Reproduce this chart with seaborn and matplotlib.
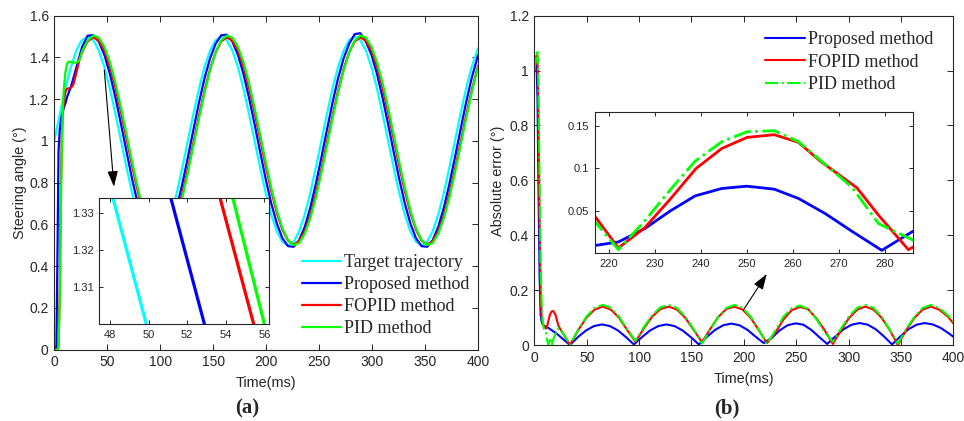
import matplotlib
matplotlib.use("Agg")
import matplotlib.pyplot as plt
from matplotlib.ticker import FuncFormatter, MultipleLocator, FixedLocator
from matplotlib.font_manager import FontProperties
import seaborn as sns

# ---------------- data: panel (a) steering angle ----------------
time_a = [0, 1, 2, 3, 4, 5.25, 6, 7, 8, 9, 10.5, 12, 13.5, 15.75, 18, 21, 23.5, 26.25,
          31.5, 36.75, 42, 47.25, 52.5, 57.75, 63, 68.25, 73.5, 78.75, 84, 89.25,
          94.5, 99.75, 105, 110.25, 115.5, 120.75, 126, 131.25, 136.5, 141.75, 147, 152.25,
          157.5, 162.75, 168, 173.25, 178.5, 183.75, 189, 194.25, 199.5, 204.75, 210, 215.25,
          220.5, 225.75, 231, 236.25, 241.5, 246.75, 252, 257.25, 262.5, 267.75, 273, 278.25,
          283.5, 288.75, 294, 299.25, 304.5, 309.75, 315, 320.25, 325.5, 330.75, 336, 341.25,
          346.5, 351.75, 357, 362.25, 367.5, 372.75, 378, 383.25, 388.5, 393.75, 399,
          400]
target = [1.000, 1.025, 1.050, 1.075, 1.099, 1.129, 1.147, 1.171, 1.194, 1.217, 1.250, 1.282, 1.312, 1.354, 1.391, 1.433, 1.461, 1.483,
          1.500, 1.483, 1.433, 1.354, 1.250, 1.129, 1.000, 0.871, 0.750, 0.646, 0.567, 0.517,
          0.500, 0.517, 0.567, 0.646, 0.750, 0.871, 1.000, 1.129, 1.250, 1.354, 1.433, 1.483,
          1.500, 1.483, 1.433, 1.354, 1.250, 1.129, 1.000, 0.871, 0.750, 0.646, 0.567, 0.517,
          0.500, 0.517, 0.567, 0.646, 0.750, 0.871, 1.000, 1.129, 1.250, 1.354, 1.433, 1.483,
          1.500, 1.483, 1.433, 1.354, 1.250, 1.129, 1.000, 0.871, 0.750, 0.646, 0.567, 0.517,
          0.500, 0.517, 0.567, 0.646, 0.750, 0.871, 1.000, 1.129, 1.250, 1.354, 1.433,
          1.445]
proposed = [0.000, 0.000, 0.020, 0.450, 0.950, 1.060, 1.090, 1.120, 1.140, 1.160, 1.180, 1.210, 1.230, 1.260, 1.300, 1.355, 1.400, 1.450,
            1.504, 1.507, 1.476, 1.413, 1.321, 1.207, 1.080, 0.947, 0.817, 0.700, 0.604, 0.534,
            0.496, 0.493, 0.524, 0.587, 0.679, 0.793, 0.920, 1.053, 1.183, 1.300, 1.396, 1.466,
            1.506, 1.509, 1.476, 1.413, 1.321, 1.207, 1.080, 0.947, 0.817, 0.700, 0.604, 0.534,
            0.496, 0.493, 0.524, 0.587, 0.679, 0.793, 0.920, 1.053, 1.183, 1.300, 1.396, 1.466,
            1.512, 1.516, 1.476, 1.413, 1.321, 1.207, 1.080, 0.947, 0.817, 0.700, 0.604, 0.534,
            0.496, 0.493, 0.524, 0.587, 0.679, 0.793, 0.920, 1.053, 1.183, 1.300, 1.396,
            1.413]
fopid = [0.000, 0.000, 0.000, 0.000, 0.020, 0.300, 0.700, 1.000, 1.130, 1.190, 1.235, 1.250, 1.252, 1.255, 1.270, 1.330, 1.385, 1.425,
         1.477, 1.496, 1.481, 1.434, 1.357, 1.255, 1.137, 1.009, 0.880, 0.760, 0.655, 0.575,
         0.523, 0.504, 0.519, 0.566, 0.643, 0.745, 0.863, 0.991, 1.120, 1.240, 1.345, 1.425,
         1.477, 1.496, 1.481, 1.434, 1.357, 1.255, 1.137, 1.009, 0.880, 0.760, 0.655, 0.575,
         0.523, 0.504, 0.519, 0.566, 0.643, 0.745, 0.863, 0.991, 1.120, 1.240, 1.345, 1.425,
         1.477, 1.496, 1.481, 1.434, 1.357, 1.255, 1.137, 1.009, 0.880, 0.760, 0.655, 0.575,
         0.523, 0.504, 0.519, 0.566, 0.643, 0.745, 0.863, 0.991, 1.120, 1.240, 1.345,
         1.362]
pid = [0.000, 0.000, 0.000, 0.000, 0.010, 0.250, 0.600, 0.950, 1.150, 1.250, 1.330, 1.370, 1.380, 1.378, 1.375, 1.375, 1.385, 1.430,
       1.481, 1.505, 1.495, 1.451, 1.377, 1.277, 1.158, 1.029, 0.898, 0.775, 0.666, 0.581,
       0.525, 0.501, 0.511, 0.555, 0.629, 0.729, 0.848, 0.977, 1.108, 1.231, 1.340, 1.425,
       1.481, 1.505, 1.495, 1.451, 1.377, 1.277, 1.158, 1.029, 0.898, 0.775, 0.666, 0.581,
       0.525, 0.501, 0.511, 0.555, 0.629, 0.729, 0.848, 0.977, 1.108, 1.231, 1.340, 1.425,
       1.481, 1.505, 1.495, 1.451, 1.377, 1.277, 1.158, 1.029, 0.898, 0.775, 0.666, 0.581,
       0.525, 0.501, 0.511, 0.555, 0.629, 0.729, 0.848, 0.977, 1.108, 1.231, 1.340,
       1.358]

# zoomed detail of panel (a) (inset)
zoom_a_value = [1.340, 1.295]
zoom_a_target_t = [47.84, 50.15]
zoom_a_proposed_t = [50.84, 53.16]
zoom_a_fopid_t = [53.39, 55.71]
zoom_a_pid_t = [54.07, 56.25]

# ---------------- data: panel (b) absolute error ----------------
time_b_fp = [0, 1, 2, 3, 4, 5, 6, 7, 8, 9, 10, 11, 12, 13.5, 15, 16.5, 18, 20, 23, 26, 30, 34,
             41.8, 49.6, 57.4, 65.3, 73.1, 80.9, 88.7, 96.5,
             104.4, 112.4, 120.3, 128.3, 136.2, 144.1, 152.1, 160,
             167.8, 175.5, 183.3, 191.0, 198.8, 206.5, 214.3, 222,
             229.9, 237.8, 245.6, 253.5, 261.4, 269.3, 277.1, 285,
             292.8, 300.5, 308.3, 316.0, 323.8, 331.5, 339.3, 347,
             354.9, 362.8, 370.6, 378.5, 386.4, 394.3, 400]
err_fopid = [1.0, 1.03, 1.055, 1.05, 0.8, 0.45, 0.2, 0.1, 0.075, 0.068, 0.063, 0.06, 0.065, 0.09, 0.112, 0.122, 0.124, 0.112, 0.07, 0.05, 0.025, 0.0,
             0.054, 0.099, 0.129, 0.140, 0.129, 0.099, 0.054, 0.012,
             0.060, 0.103, 0.131, 0.140, 0.129, 0.099, 0.055, 0.010,
             0.058, 0.102, 0.131, 0.140, 0.129, 0.099, 0.054, 0.007,
             0.044, 0.093, 0.127, 0.139, 0.130, 0.097, 0.054, 0.004,
             0.054, 0.099, 0.129, 0.140, 0.129, 0.099, 0.054, 0.000,
             0.054, 0.099, 0.129, 0.140, 0.129, 0.105, 0.079]
err_pid = [1.0, 1.03, 1.06, 1.075, 0.95, 0.6, 0.3, 0.15, 0.09, 0.06, 0.05, 0.045, 0.02, 0.0, 0.026, 0.0, 0.02, 0.04, 0.062, 0.05, 0.027, 0.0,
           0.056, 0.103, 0.135, 0.146, 0.135, 0.103, 0.056, 0.015,
           0.065, 0.108, 0.137, 0.146, 0.135, 0.103, 0.058, 0.005,
           0.056, 0.103, 0.135, 0.146, 0.135, 0.103, 0.056, 0.004,
           0.052, 0.103, 0.134, 0.144, 0.131, 0.094, 0.046, 0.012,
           0.060, 0.106, 0.136, 0.146, 0.135, 0.103, 0.056, 0.005,
           0.058, 0.103, 0.135, 0.146, 0.135, 0.110, 0.085]
time_b_p = [0, 1, 2, 3, 4, 5, 6, 7, 8, 9, 10, 11, 12, 13.5, 15, 16.5, 18, 20, 23, 26, 30, 34,
            41.6, 49.3, 56.9, 64.5, 72.1, 79.8, 87.4, 95,
            102.8, 110.5, 118.3, 126.0, 133.8, 141.5, 149.3, 157,
            164.8, 172.5, 180.3, 188.0, 195.8, 203.5, 211.3, 219,
            226.6, 234.1, 241.7, 249.3, 256.8, 264.4, 271.9, 279.5,
            287.3, 295.0, 302.8, 310.5, 318.3, 326.0, 333.8, 341.5,
            349.3, 357.0, 364.8, 372.5, 380.3, 388.0, 395.8, 400]
err_proposed = [1.0, 1.04, 1.03, 0.9, 0.55, 0.25, 0.11, 0.085, 0.075, 0.071, 0.069, 0.067, 0.065, 0.062, 0.058, 0.054, 0.05, 0.045, 0.036, 0.026, 0.013, 0.0,
                0.029, 0.053, 0.069, 0.075, 0.069, 0.053, 0.029, 0.002,
                0.029, 0.053, 0.069, 0.075, 0.069, 0.053, 0.029, 0.002,
                0.030, 0.055, 0.072, 0.078, 0.072, 0.055, 0.030, 0.007,
                0.026, 0.053, 0.072, 0.079, 0.074, 0.055, 0.029, 0.004,
                0.031, 0.057, 0.074, 0.080, 0.074, 0.057, 0.031, 0.002,
                0.031, 0.057, 0.074, 0.080, 0.075, 0.062, 0.042, 0.030]

# zoomed detail of panel (b) (inset)
zoom_b_fopid_t = [216, 222.0, 227.7, 233.3, 238.9, 244.5, 250.0, 255.9, 261.2, 265.9, 273.9, 278.6, 285.1, 287]
zoom_b_fopid = [0.050, 0.0063, 0.030, 0.064, 0.100, 0.1236, 0.1366, 0.1398, 0.1307, 0.1087, 0.0772, 0.0449, 0.0043, 0.010]
zoom_b_prop_t = [216, 222.0, 227.7, 233.3, 238.7, 244.5, 249.9, 255.9, 261.2, 267.0, 272.8, 279.3, 287]
zoom_b_prop = [0.0085, 0.0134, 0.029, 0.050, 0.0677, 0.0764, 0.0791, 0.0756, 0.0646, 0.0468, 0.026, 0.0035, 0.029]
zoom_b_pid_t = [216, 222.0, 227.7, 233.3, 238.7, 244.5, 250.0, 255.9, 261.2, 266.3, 272.8, 278.6, 286.2, 287]
zoom_b_pid = [0.043, 0.0043, 0.038, 0.075, 0.1087, 0.1315, 0.1433, 0.1445, 0.1315, 0.108, 0.078, 0.035, 0.0153, 0.015]

labels_a = ["Target trajectory", "Proposed method", "FOPID method", "PID method"]
labels_b = ["Proposed method", "FOPID method", "PID method"]

assert len(time_a) == len(target) == len(proposed) == len(fopid) == len(pid)
assert len(time_b_fp) == len(err_fopid) == len(err_pid)
assert len(time_b_p) == len(err_proposed)

# ---------------- style ----------------
sns.set_theme(style="white")
plt.rcParams["font.family"] = ["Liberation Sans", "DejaVu Sans"]
plt.rcParams["axes.edgecolor"] = "#262626"
plt.rcParams["axes.linewidth"] = 0.8

CYAN, BLUE, RED, GREEN = "#00FFFF", "#0000FF", "#FF0000", "#00FF00"
TXT = "#262626"
serif = FontProperties(family=["Liberation Serif", "DejaVu Serif"], size=13)
fmt = FuncFormatter(lambda v, p: "%g" % round(v, 6))

fig = plt.figure(figsize=(9.64, 4.21), dpi=100)
ax1 = fig.add_axes([0.0563, 0.1694, 0.4398, 0.7933])
ax2 = fig.add_axes([0.5543, 0.1805, 0.4347, 0.7822])
ins1 = fig.add_axes([0.1030, 0.2304, 0.1763, 0.3000])
ins2 = fig.add_axes([0.6172, 0.3983, 0.3299, 0.3356])


def style_axes(ax, size, length):
    ax.tick_params(direction="in", top=True, right=True, bottom=True, left=True,
                   length=length, width=0.7, labelsize=size, colors=TXT, pad=4)
    for s in ax.spines.values():
        s.set_visible(True)
        s.set_color(TXT)
        s.set_linewidth(0.8)
    ax.xaxis.set_major_formatter(fmt)
    ax.yaxis.set_major_formatter(fmt)
    ax.set_xlabel("")
    ax.set_ylabel("")
    ax.set_facecolor("white")


# ---- panel (a) ----
lw = 1.6
sns.lineplot(x=time_a, y=target, ax=ax1, color=CYAN, lw=lw, sort=False, label=labels_a[0])
sns.lineplot(x=time_a, y=proposed, ax=ax1, color=BLUE, lw=lw, sort=False, label=labels_a[1])
sns.lineplot(x=time_a, y=fopid, ax=ax1, color=RED, lw=lw, sort=False, label=labels_a[2])
sns.lineplot(x=time_a, y=pid, ax=ax1, color=GREEN, lw=lw, sort=False, label=labels_a[3])
ax1.set_xlim(0, 400)
ax1.set_ylim(0, 1.6)
ax1.xaxis.set_major_locator(MultipleLocator(50))
ax1.yaxis.set_major_locator(MultipleLocator(0.2))
style_axes(ax1, 10, 4)
ax1.set_xlabel("Time(ms)", fontsize=10.4, color=TXT, labelpad=5)
ax1.set_ylabel("Steering angle (°)", fontsize=10.4, color=TXT, labelpad=2)
h, l = ax1.get_legend_handles_labels()
ax1.legend(h, l, loc="upper left", bbox_to_anchor=(0.5835, 0.2860), frameon=False, prop=serif,
           handlelength=2.2, handletextpad=0.15, labelspacing=0.28, borderaxespad=0, borderpad=0)
ax1.annotate("", xy=(56.3, 0.781), xytext=(47.2, 1.34),
             arrowprops=dict(arrowstyle="-|>,head_length=0.95,head_width=0.32", color="black",
                             lw=0.8, mutation_scale=10, shrinkA=0, shrinkB=0))

# inset (a)
ilw = 2.3
sns.lineplot(x=zoom_a_target_t, y=zoom_a_value, ax=ins1, color=CYAN, lw=ilw, sort=False)
sns.lineplot(x=zoom_a_proposed_t, y=zoom_a_value, ax=ins1, color=BLUE, lw=ilw, sort=False)
sns.lineplot(x=zoom_a_fopid_t, y=zoom_a_value, ax=ins1, color=RED, lw=ilw, sort=False)
sns.lineplot(x=zoom_a_pid_t, y=zoom_a_value, ax=ins1, color=GREEN, lw=ilw, sort=False)
ins1.set_xlim(47.45, 56.25)
ins1.set_ylim(1.3002, 1.334)
ins1.xaxis.set_major_locator(FixedLocator([48, 50, 52, 54, 56]))
ins1.yaxis.set_major_locator(FixedLocator([1.31, 1.32, 1.33]))
style_axes(ins1, 8, 3)

# ---- panel (b) ----
lwb = 1.5
sns.lineplot(x=time_b_p, y=err_proposed, ax=ax2, color=BLUE, lw=lwb, sort=False, label=labels_b[0])
sns.lineplot(x=time_b_fp, y=err_fopid, ax=ax2, color=RED, lw=lwb, sort=False, label=labels_b[1])
sns.lineplot(x=time_b_fp, y=err_pid, ax=ax2, color=GREEN, lw=lwb, sort=False, linestyle="-.",
             label=labels_b[2])
ax2.set_xlim(0, 400)
ax2.set_ylim(0, 1.2)
ax2.xaxis.set_major_locator(MultipleLocator(50))
ax2.yaxis.set_major_locator(MultipleLocator(0.2))
style_axes(ax2, 10, 4)
ax2.set_xlabel("Time(ms)", fontsize=10.4, color=TXT, labelpad=5)
ax2.set_ylabel("Absolute error (°)", fontsize=10.4, color=TXT, labelpad=3)
h, l = ax2.get_legend_handles_labels()
ax2.legend(h, l, loc="upper left", bbox_to_anchor=(0.5506, 0.9530), frameon=False, prop=serif,
           handlelength=2.2, handletextpad=0.15, labelspacing=0.3, borderaxespad=0, borderpad=0)
ax2.annotate("", xy=(221.9, 0.259), xytext=(199.5, 0.1276),
             arrowprops=dict(arrowstyle="-|>,head_length=0.95,head_width=0.32", color="black",
                             lw=0.8, mutation_scale=10, shrinkA=0, shrinkB=0))

# inset (b)
ilwb = 2.0
sns.lineplot(x=zoom_b_prop_t, y=zoom_b_prop, ax=ins2, color=BLUE, lw=ilwb, sort=False)
sns.lineplot(x=zoom_b_fopid_t, y=zoom_b_fopid, ax=ins2, color=RED, lw=ilwb, sort=False)
sns.lineplot(x=zoom_b_pid_t, y=zoom_b_pid, ax=ins2, color=GREEN, lw=ilwb, sort=False, linestyle="-.")
ins2.set_xlim(216.9, 286.1)
ins2.set_ylim(0, 0.1665)
ins2.xaxis.set_major_locator(MultipleLocator(10))
ins2.yaxis.set_major_locator(FixedLocator([0.05, 0.1, 0.15]))
style_axes(ins2, 8, 3)

# captions
fig.text(247 / 964, 1 - 408 / 421, "(a)", ha="center", va="center", fontsize=15,
         fontweight="bold", family=["Liberation Serif", "DejaVu Serif"])
fig.text(727 / 964, 1 - 408 / 421, "(b)", ha="center", va="center", fontsize=15,
         fontweight="bold", family=["Liberation Serif", "DejaVu Serif"])

fig.savefig("out.png", dpi=100, facecolor="white")
